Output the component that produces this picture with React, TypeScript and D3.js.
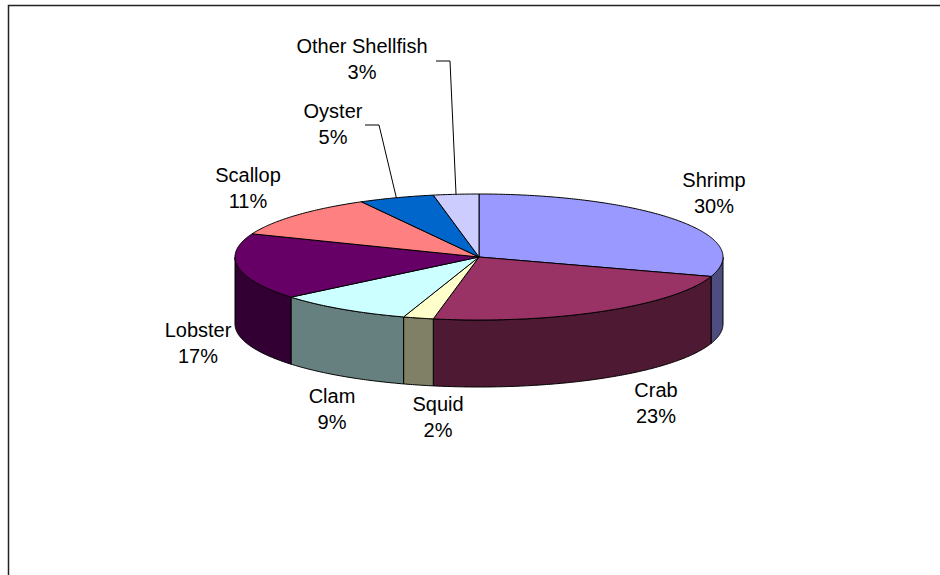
import React from "react";
import * as d3 from "d3";

// ---- data ----
const categories = ["Shrimp", "Crab", "Squid", "Clam", "Lobster", "Scallop", "Oyster", "Other Shellfish"];
const shares = [30, 23, 2, 9, 17, 11, 5, 3];
const topColors = ["#9999FF", "#993366", "#FFFFCC", "#CCFFFF", "#660066", "#FF8080", "#0066CC", "#CCCCFF"];
const sideColors = ["#4D4D80", "#4D1933", "#808066", "#668080", "#330033", "#804040", "#003366", "#666680"];

// ---- layout ----
const W = 940;
const H = 575;
const CX = 479;
const CY = 257;
const RX = 244;
const RY = 63;
const DEPTH = 67;

type LabelLayout = { x: number; y: number; leader?: [number, number][] };
const labelLayout: LabelLayout[] = [
  { x: 714, y: 187 },
  { x: 656, y: 397 },
  { x: 438, y: 411 },
  { x: 332, y: 403 },
  { x: 198, y: 337 },
  { x: 248, y: 182 },
  { x: 333, y: 118, leader: [[365, 125], [379, 125]] },
  { x: 362, y: 53, leader: [[436, 61], [450, 61]] },
];

const pt = (a: number, dy = 0): [number, number] => [CX + RX * Math.sin(a), CY - RY * Math.cos(a) + dy];

const arcPoints = (a0: number, a1: number, dy = 0): [number, number][] => {
  const n = Math.max(2, Math.ceil(Math.abs(a1 - a0) / 0.01));
  return d3.range(n + 1).map((i) => pt(a0 + ((a1 - a0) * i) / n, dy));
};

export default function App() {
  const arcs = d3.pie<number>().sort(null).value((d) => d)(shares);
  const line = d3.line();
  const fmt = d3.format(".0%");
  const total = d3.sum(shares);

  const sides: React.ReactNode[] = [];
  const tops: React.ReactNode[] = [];
  arcs.forEach((arc, i) => {
    const s = Math.max(arc.startAngle, Math.PI / 2);
    const e = Math.min(arc.endAngle, (3 * Math.PI) / 2);
    if (e > s) {
      const pts = [...arcPoints(s, e), ...arcPoints(e, s, DEPTH)];
      sides.push(
        <path key={"s" + i} d={line(pts) + "Z"} fill={sideColors[i]} stroke="#000" strokeWidth={1} strokeLinejoin="round" />
      );
    }
    const tp: [number, number][] = [[CX, CY], ...arcPoints(arc.startAngle, arc.endAngle)];
    tops.push(
      <path key={"t" + i} d={line(tp) + "Z"} fill={topColors[i]} stroke="#000" strokeWidth={1} strokeLinejoin="round" />
    );
  });

  const labels = arcs.map((arc, i) => {
    const L = labelLayout[i];
    const mid = (arc.startAngle + arc.endAngle) / 2;
    const leader = L.leader ? [...L.leader, pt(mid)] : null;
    return (
      <g key={"l" + i}>
        {leader && <path d={line(leader as [number, number][]) || ""} fill="none" stroke="#000" strokeWidth={1} />}
        <text x={L.x} y={L.y} textAnchor="middle" fontSize={20} fontFamily="'Liberation Sans', Arial, sans-serif" fill="#000">
          <tspan x={L.x} y={L.y}>{categories[i]}</tspan>
          <tspan x={L.x} y={L.y + 25.5}>{fmt(shares[i] / total)}</tspan>
        </text>
      </g>
    );
  });

  return (
    <svg width={W} height={H} style={{ position: "absolute", left: 0, top: 0, background: "#fff" }}>
      <rect x={8.5} y={5.5} width={W + 20} height={H + 20} fill="#fff" stroke="#222" strokeWidth={1.5} />
      {sides}
      {tops}
      {labels}
    </svg>
  );
}
